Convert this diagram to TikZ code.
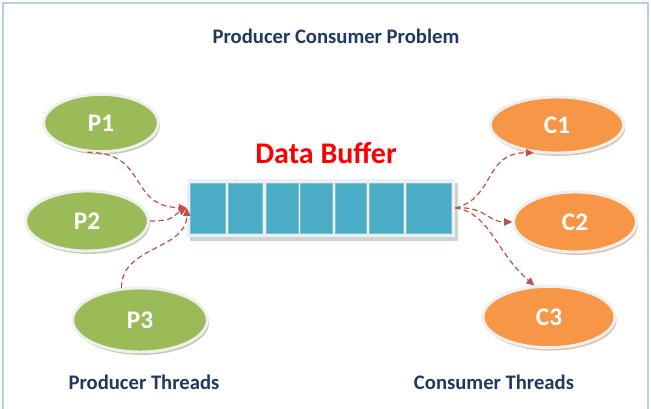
\documentclass[tikz,border=0pt]{standalone}
\usepackage{fontspec}
\setmainfont{Carlito}
\usetikzlibrary{shapes.geometric,shadows,arrows.meta}
\definecolor{prodgreen}{HTML}{9BBB59}
\definecolor{consorange}{HTML}{F79646}
\definecolor{cellblue}{HTML}{4BACC6}
\definecolor{flowred}{HTML}{C0504D}
\definecolor{navy}{HTML}{1F3864}
\definecolor{edgeblue}{HTML}{B4D2DE}
\definecolor{rimgray}{HTML}{EFEFEF}
\definecolor{bufshadow}{HTML}{8FACB6}
\begin{document}
\begin{tikzpicture}[x=0.75pt,y=-0.75pt,
  thread/.style={ellipse, draw=rimgray, line width=2.2pt, inner sep=0pt,
    text=white, font=\fontsize{19}{22}\selectfont\bfseries},
  prod/.style={thread, fill=prodgreen,
    drop shadow={shadow xshift=1.2pt, shadow yshift=-2.2pt, fill=prodgreen!45!gray}},
  cons/.style={thread, fill=consorange,
    drop shadow={shadow xshift=1.2pt, shadow yshift=-2.2pt, fill=consorange!55!gray}},
  caption/.style={text=navy, font=\fontsize{15.5}{18}\selectfont\bfseries},
  flow/.style={draw=flowred, line width=0.9pt, dash pattern=on 4pt off 2.5pt,
    -{Triangle[length=6pt,width=5.5pt]}}]
\useasboundingbox (0,0) rectangle (651,409);
\fill[white] (0,0) rectangle (651,409);
\draw[edgeblue, line width=1pt] (3,409) -- (3,3) -- (648,3) -- (648,409);

\node[caption] (title) at (336,36) {Producer Consumer Problem};
\node[text=red, font=\fontsize{22.5}{26}\selectfont\bfseries] (buflabel) at (326,153) {Data Buffer};

% producers
\node[prod, minimum width=86pt, minimum height=43pt] (p1) at (101,123) {P1};
\node[prod, minimum width=92pt, minimum height=45pt] (p2) at (87,221) {P2};
\node[prod, minimum width=101pt, minimum height=48pt] (p3) at (140,320) {P3};

% consumers
\node[cons, minimum width=100pt, minimum height=42pt] (c1) at (557,125) {C1};
\node[cons, minimum width=92pt, minimum height=45pt] (c2) at (575,222) {C2};
\node[cons, minimum width=99pt, minimum height=46pt] (c3) at (549,317) {C3};

% buffer
\node[fill=rimgray, minimum width=201pt, minimum height=43.5pt, inner sep=0pt,
  drop shadow={shadow xshift=2.2pt, shadow yshift=-2.8pt, fill=bufshadow}] (buf) at (321,208) {};
\foreach \l/\r in {190/225,228/262,266/298,300/332,335/366,369/403,406/451}
  \filldraw[fill=cellblue, draw=cellblue!75!white, line width=0.3pt] (\l,183) rectangle (\r,233);

\node[caption] (prodlabel) at (144,382) {Producer Threads};
\node[caption] (conslabel) at (494,382) {Consumer Threads};

\draw[flow] (p1.-115) .. controls +(62,0) and +(-60,-2) .. (buf.west);
\draw[flow] (p2.east) .. controls +(25,0) and +(-15,8) .. (buf.west);
\draw[flow] (p3.120) .. controls +(0,-42) and +(0,42) .. (buf.west);

\draw[flow] (buf.east) .. controls +(40,-10) and +(-50,0) .. (c1.-130);
\draw[flow] (buf.east) .. controls +(30,-2) and +(-25,0) .. (c2.west);
\draw[flow] (buf.east) .. controls +(35,5) and +(-40,-35) .. (c3.115);
\end{tikzpicture}
\end{document}
